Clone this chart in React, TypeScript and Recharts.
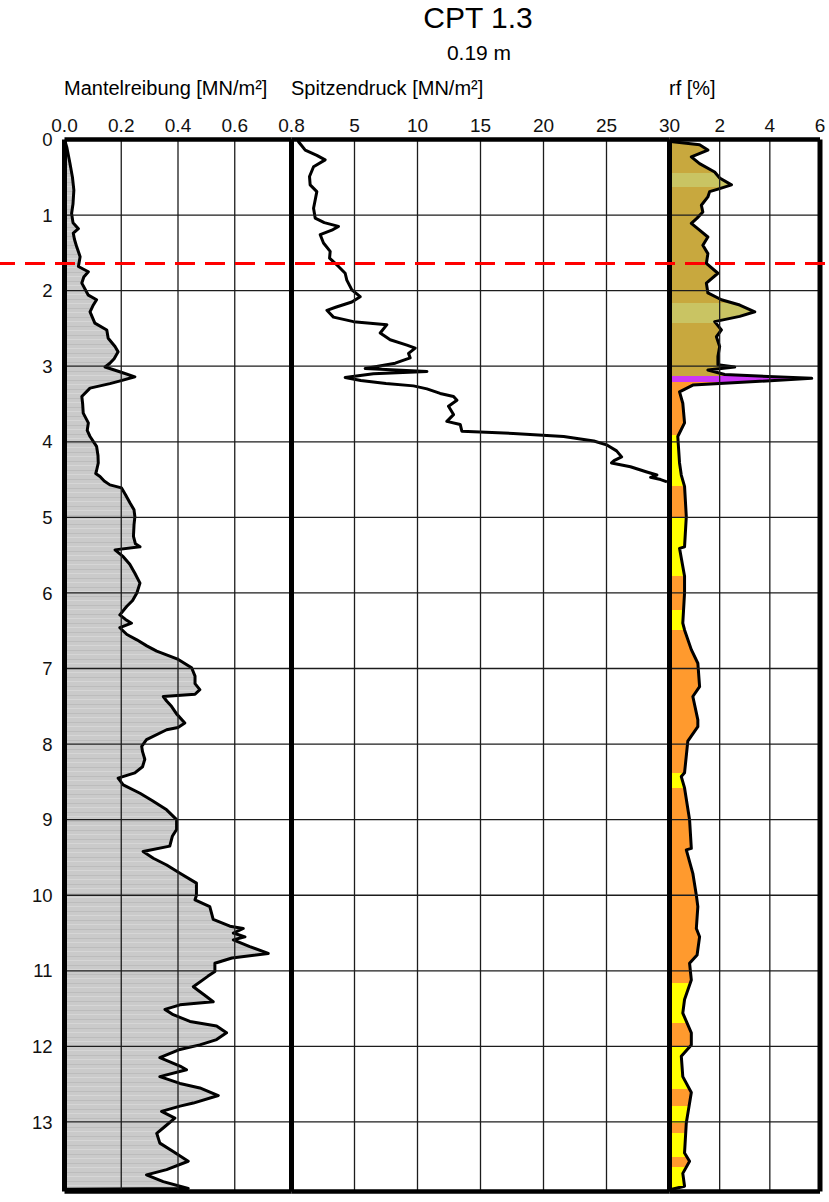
import { ComposedChart, Area, Line, XAxis, YAxis, ReferenceLine } from "recharts";

const WIDTH = 829;
const HEIGHT = 1202;
const TOP = 139.5;
const BOTTOM = 1191.5;
const MAX_DEPTH = 13.92;
const FONT = "'Liberation Sans', Arial, Helvetica, sans-serif";

const depthTicks = [0, 1, 2, 3, 4, 5, 6, 7, 8, 9, 10, 11, 12, 13];
const fsTicks = [0, 0.2, 0.4, 0.6, 0.8];
const qcTicks = [5, 10, 15, 20, 25, 30];
const rfTicks = [2, 4, 6];
const waterLevel = 1.64;

// Mantelreibung [MN/m²]
const fsDepth = [
  0, 0.1, 0.31, 0.5, 0.67, 0.85, 0.98, 1.1, 1.18, 1.24, 1.32, 1.42, 1.55, 1.68, 1.75, 1.82, 1.9, 2.06, 2.12, 2.2,
  2.28, 2.43, 2.52, 2.63, 2.74, 2.81, 2.9, 2.96, 3.01, 3.08, 3.14, 3.19, 3.23, 3.29, 3.4, 3.5, 3.62, 3.75, 3.85, 3.93,
  4.06, 4.18, 4.28, 4.38, 4.42, 4.46, 4.52, 4.57, 4.61, 4.7, 4.81, 4.9, 4.99, 5.1, 5.25, 5.35, 5.39, 5.43, 5.52, 5.62,
  5.74, 5.87, 6.0, 6.1, 6.18, 6.29, 6.35, 6.4, 6.46, 6.55, 6.62, 6.7, 6.77, 6.88, 6.99, 7.1, 7.2, 7.28, 7.34, 7.37,
  7.43, 7.5, 7.6, 7.72, 7.78, 7.81, 7.94, 8.03, 8.1, 8.2, 8.3, 8.38, 8.45, 8.54, 8.65, 8.75, 8.87, 9.0, 9.13, 9.22,
  9.35, 9.42, 9.51, 9.6, 9.71, 9.84, 10.0, 10.06, 10.15, 10.32, 10.41, 10.44, 10.5, 10.55, 10.59, 10.68, 10.77, 10.83, 10.9, 11.01,
  11.07, 11.21, 11.34, 11.41, 11.45, 11.51, 11.58, 11.67, 11.73, 11.82, 11.91, 11.98, 12.04, 12.15, 12.26, 12.31, 12.4, 12.49, 12.55, 12.65,
  12.75, 12.79, 12.86, 12.95, 13.06, 13.15, 13.28, 13.39, 13.52, 13.63, 13.7, 13.79, 13.88, 13.89,
];
const fsValue = [
  0, 0.008, 0.019, 0.028, 0.033, 0.03, 0.025, 0.03, 0.049, 0.031, 0.035, 0.043, 0.055, 0.049, 0.084, 0.068, 0.061, 0.084, 0.113, 0.1,
  0.09, 0.107, 0.149, 0.154, 0.178, 0.189, 0.175, 0.16, 0.143, 0.2, 0.248, 0.2, 0.16, 0.09, 0.061, 0.064, 0.066, 0.084, 0.08, 0.09,
  0.113, 0.118, 0.119, 0.113, 0.11, 0.125, 0.14, 0.16, 0.201, 0.215, 0.231, 0.245, 0.248, 0.245, 0.243, 0.25, 0.266, 0.178, 0.207, 0.23,
  0.248, 0.266, 0.255, 0.24, 0.219, 0.195, 0.215, 0.236, 0.195, 0.22, 0.255, 0.29, 0.325, 0.401, 0.448, 0.46, 0.46, 0.477, 0.46, 0.348,
  0.36, 0.377, 0.395, 0.424, 0.4, 0.36, 0.289, 0.272, 0.275, 0.283, 0.275, 0.248, 0.189, 0.207, 0.266, 0.31, 0.36, 0.395, 0.395, 0.38,
  0.371, 0.277, 0.313, 0.36, 0.407, 0.465, 0.465, 0.46, 0.512, 0.524, 0.583, 0.63, 0.595, 0.636, 0.595, 0.653, 0.718, 0.59, 0.53, 0.53,
  0.506, 0.454, 0.5, 0.524, 0.407, 0.354, 0.383, 0.442, 0.536, 0.571, 0.536, 0.477, 0.407, 0.336, 0.407, 0.43, 0.336, 0.407, 0.477, 0.542,
  0.454, 0.407, 0.342, 0.389, 0.354, 0.325, 0.336, 0.383, 0.436, 0.36, 0.289, 0.348, 0.436, 0,
];

// Spitzendruck [MN/m²]
const qcDepth = [
  0, 0.03, 0.14, 0.21, 0.27, 0.36, 0.49, 0.6, 0.69, 0.8, 0.91, 1.04, 1.1, 1.15, 1.2, 1.26, 1.37, 1.48, 1.57, 1.68,
  1.77, 1.86, 1.99, 2.08, 2.15, 2.22, 2.26, 2.35, 2.41, 2.45, 2.56, 2.65, 2.72, 2.76, 2.83, 2.89, 2.96, 3.03, 3.07, 3.1,
  3.15, 3.19, 3.23, 3.26, 3.3, 3.36, 3.4, 3.45, 3.53, 3.64, 3.73, 3.77, 3.86, 3.89, 3.93, 3.99, 4.04, 4.12, 4.2, 4.25,
  4.28, 4.33, 4.4, 4.44, 4.47, 4.5, 4.53,
];
const qcValue = [
  0.5, 0.56, 1.09, 2.01, 2.67, 1.75, 1.43, 1.48, 2.01, 1.88, 1.75, 1.88, 2.6, 3.73, 3.2, 2.28, 2.54, 3.07, 3.02, 3.73,
  4.26, 4.39, 4.79, 5.45, 4.79, 3.5, 2.81, 3.33, 4.92, 7.57, 7.04, 7.83, 9.16, 9.82, 9.29, 9.42, 8.23, 5.85, 10.75, 6.5,
  4.26, 5.5, 7.5, 9.68, 10.75, 11.8, 12.86, 13.13, 12.46, 12.86, 12.33, 13.39, 13.52, 17.6, 21.6, 24.0, 25.0, 25.8, 26.2, 25.6,
  25.4, 26.9, 28.2, 29.0, 28.5, 29.3, 29.8,
];

// Reibungsverhältnis rf [%]
const rfDepth = [
  0, 0.03, 0.07, 0.14, 0.23, 0.32, 0.43, 0.51, 0.6, 0.65, 0.69, 0.76, 0.87, 0.96, 1.04, 1.11, 1.2, 1.29, 1.4, 1.51,
  1.64, 1.77, 1.9, 2.03, 2.12, 2.19, 2.28, 2.34, 2.41, 2.52, 2.61, 2.74, 2.87, 2.98, 3.01, 3.05, 3.11, 3.16, 3.2, 3.25,
  3.34, 3.49, 3.75, 3.93, 4.28, 4.44, 4.59, 4.99, 5.39, 5.41, 5.78, 6.0, 6.4, 6.49, 6.75, 6.93, 7.24, 7.37, 7.68, 7.77,
  7.96, 8.38, 8.43, 8.58, 9.0, 9.38, 9.4, 9.71, 10.0, 10.15, 10.44, 10.55, 10.79, 10.9, 11.12, 11.38, 11.56, 11.82, 11.98, 12.13,
  12.4, 12.61, 13.01, 13.41, 13.52, 13.68, 13.85, 13.89,
];
const rfValue = [
  0.1, 0.13, 1.2, 1.53, 0.87, 1.2, 1.8, 2.0, 2.47, 2.0, 1.6, 1.53, 1.27, 1.33, 1.1, 0.87, 1.2, 1.53, 1.33, 1.53,
  1.47, 1.93, 1.47, 1.53, 2.07, 2.8, 3.4, 2.8, 1.8, 2.07, 1.87, 2.0, 1.93, 1.93, 2.6, 1.53, 2.2, 5.67, 3.6, 0.93,
  0.4, 0.53, 0.6, 0.33, 0.4, 0.47, 0.6, 0.67, 0.6, 0.4, 0.6, 0.6, 0.53, 0.6, 0.87, 1.13, 1.2, 0.93, 1.13, 1.13,
  0.73, 0.6, 0.47, 0.6, 0.8, 0.87, 0.67, 0.93, 1.07, 1.13, 1.07, 1.2, 1.1, 0.8, 0.87, 0.6, 0.53, 0.87, 0.87, 0.47,
  0.53, 0.87, 0.67, 0.6, 0.8, 0.53, 0.6, 0.1,
];

// soil classification bands along depth (from, to, type)
const soilFrom = [0, 0.44, 0.63, 2.17, 2.43, 3.13, 3.21, 3.91, 4.59, 4.99, 5.78, 6.22, 6.49, 8.38, 8.58, 11.16, 11.69, 12.0, 12.57, 12.79, 13.01, 13.15, 13.46, 13.59];
const soilTo = [0.44, 0.63, 2.17, 2.43, 3.13, 3.21, 3.91, 4.59, 4.99, 5.78, 6.22, 6.49, 8.38, 8.58, 11.16, 11.69, 12.0, 12.57, 12.79, 13.01, 13.15, 13.46, 13.59, 13.89];
const soilType = ["silt", "loam", "silt", "loam", "silt", "peat", "sand", "gravel", "sand", "gravel", "sand", "gravel", "sand", "gravel", "sand", "gravel", "sand", "gravel", "sand", "gravel", "sand", "gravel", "sand", "gravel"];
const soilColors: Record<string, string> = {
  silt: "#c8a83e",
  loam: "#c9c463",
  peat: "#cc38f5",
  sand: "#ff9a2e",
  gravel: "#ffff00",
};

const fsData = fsDepth.map((depth, i) => ({ depth, fs: fsValue[i] }));
const qcData = qcDepth.map((depth, i) => ({ depth, qc: qcValue[i] }));
const rfData = rfDepth.map((depth, i) => ({ depth, rf: rfValue[i] }));
// helper rows so the overlay chart has a (hidden) series to build its axes from
const levelData = [
  { depth: 0, level: 0 },
  { depth: MAX_DEPTH, level: 1 },
];

const rfSpan = rfDepth[rfDepth.length - 1] - rfDepth[0];
const soilStops = soilFrom.flatMap((from, i) => {
  const color = soilColors[soilType[i]];
  return [
    { offset: (from - rfDepth[0]) / rfSpan, color },
    { offset: (soilTo[i] - rfDepth[0]) / rfSpan, color },
  ];
});

type PanelProps = {
  data: any[];
  x0: number;
  x1: number;
  domain: [number, number];
  ticks: number[];
  fmt?: (v: number) => string;
  withDepth?: boolean;
  children?: any;
};

function Panel({ data, x0, x1, domain, ticks, fmt, withDepth, children }: PanelProps) {
  const gridX = ticks.filter((t) => t > domain[0] && t < domain[1]);
  return (
    <div style={{ position: "absolute", left: 0, top: 0 }}>
      <ComposedChart
        width={WIDTH}
        height={HEIGHT}
        data={data}
        layout="vertical"
        margin={{ top: TOP - 30, bottom: HEIGHT - BOTTOM, left: withDepth ? x0 - 50 : x0, right: WIDTH - x1 }}
      >
        <defs>
          <pattern id="fsFill" patternUnits="userSpaceOnUse" width="8" height="9">
            <rect width="8" height="9" fill="#cacaca" />
            <rect y="2" width="8" height="1" fill="#bcbcbc" />
            <rect y="6" width="8" height="1" fill="#d6d6d6" />
          </pattern>
          <linearGradient id="rfFill" x1="0" y1="0" x2="0" y2="1">
            {soilStops.map((s, i) => (
              <stop key={i} offset={s.offset} stopColor={s.color} />
            ))}
          </linearGradient>
        </defs>
        <XAxis
          type="number"
          orientation="top"
          domain={domain}
          ticks={ticks}
          interval={0}
          height={30}
          axisLine={false}
          tickLine={false}
          tickSize={0}
          tickMargin={8}
          tickFormatter={fmt}
          allowDataOverflow
          tick={{ fill: "#111", fontSize: 19, fontFamily: FONT }}
        />
        <YAxis
          type="number"
          dataKey="depth"
          domain={[0, MAX_DEPTH]}
          ticks={depthTicks}
          interval={0}
          width={50}
          hide={!withDepth}
          axisLine={false}
          tickLine={false}
          tickSize={0}
          tickMargin={12}
          allowDataOverflow
          tick={{ fill: "#111", fontSize: 18.5, fontFamily: FONT }}
        />
        {children}
        {depthTicks.slice(1).map((d) => (
          <ReferenceLine key={`h${d}`} y={d} stroke="#1c1c1c" strokeWidth={1.3} />
        ))}
        {gridX.map((v) => (
          <ReferenceLine key={`v${v}`} x={v} stroke="#1c1c1c" strokeWidth={1.3} />
        ))}
        <ReferenceLine x={domain[0]} stroke="#000" strokeWidth={5} />
        <ReferenceLine x={domain[1]} stroke="#000" strokeWidth={5} />
        <ReferenceLine y={0} stroke="#000" strokeWidth={4.5} />
        <ReferenceLine y={MAX_DEPTH} stroke="#000" strokeWidth={4.5} />
      </ComposedChart>
    </div>
  );
}

export default function App() {
  return (
    <div style={{ position: "absolute", left: 0, top: 0, width: WIDTH, height: HEIGHT, background: "#fff", fontFamily: FONT }}>
      <svg width={WIDTH} height={110} style={{ position: "absolute", left: 0, top: 0 }}>
        <text x={478} y={28} textAnchor="middle" fontSize={30} fill="#000" fontFamily={FONT}>CPT 1.3</text>
        <text x={479} y={59.5} textAnchor="middle" fontSize={21} fill="#000" fontFamily={FONT}>0.19 m</text>
        <text x={64} y={94.5} fontSize={20} fill="#000" fontFamily={FONT}>Mantelreibung [MN/m²]</text>
        <text x={291} y={94.5} fontSize={20} fill="#000" fontFamily={FONT}>Spitzendruck [MN/m²]</text>
        <text x={669} y={94.5} fontSize={20} fill="#000" fontFamily={FONT}>rf [%]</text>
      </svg>

      <Panel data={fsData} x0={64.5} x1={291.5} domain={[0, 0.8]} ticks={fsTicks} fmt={(v) => v.toFixed(1)} withDepth>
        <Area
          dataKey="fs"
          type="linear"
          fill="url(#fsFill)"
          fillOpacity={1}
          stroke="#000"
          strokeWidth={3}
          strokeLinejoin="round"
          dot={false}
          activeDot={false}
          isAnimationActive={false}
        />
      </Panel>

      <Panel data={qcData} x0={291.5} x1={669.5} domain={[0, 30]} ticks={qcTicks}>
        <Line
          dataKey="qc"
          type="linear"
          stroke="#000"
          strokeWidth={3}
          strokeLinejoin="round"
          dot={false}
          activeDot={false}
          isAnimationActive={false}
        />
      </Panel>

      <Panel data={rfData} x0={669.5} x1={820} domain={[0, 6]} ticks={rfTicks}>
        <Area
          dataKey="rf"
          type="linear"
          fill="url(#rfFill)"
          fillOpacity={1}
          stroke="#000"
          strokeWidth={3}
          strokeLinejoin="round"
          dot={false}
          activeDot={false}
          isAnimationActive={false}
        />
      </Panel>

      <div style={{ position: "absolute", left: 0, top: 0 }}>
        <ComposedChart
          width={WIDTH}
          height={HEIGHT}
          data={levelData}
          layout="vertical"
          margin={{ top: TOP, bottom: HEIGHT - BOTTOM, left: 0, right: 0 }}
        >
          <XAxis type="number" hide domain={[0, 1]} />
          <YAxis type="number" dataKey="depth" hide domain={[0, MAX_DEPTH]} />
          <Line dataKey="level" stroke="none" dot={false} activeDot={false} isAnimationActive={false} />
          <ReferenceLine y={waterLevel} stroke="#ff0000" strokeWidth={3} strokeDasharray="20 10" strokeDashoffset={5} />
        </ComposedChart>
      </div>
    </div>
  );
}
